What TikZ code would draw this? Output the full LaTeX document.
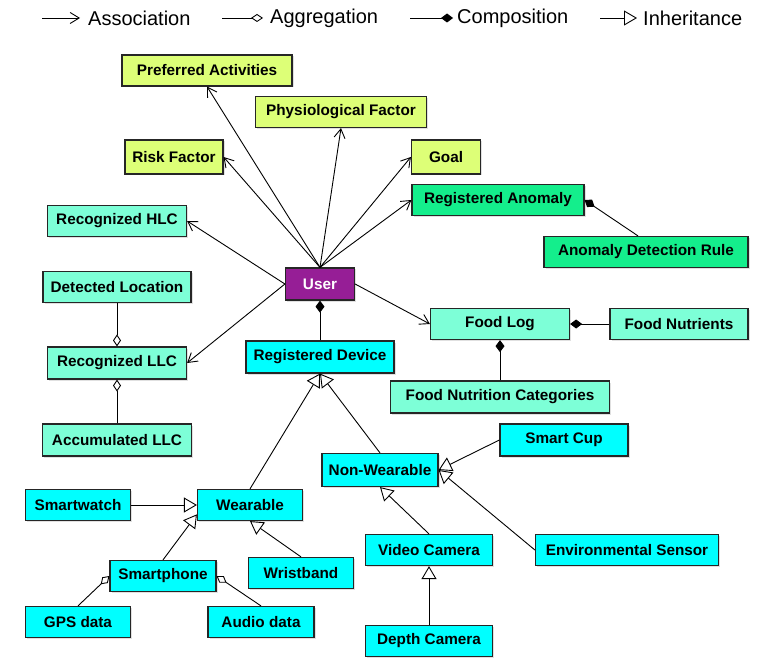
\documentclass[tikz,border=0pt]{standalone}
\usepackage{fontspec}
\setmainfont{Liberation Sans}
\usepackage{xcolor}
\usetikzlibrary{arrows.meta,shadows}

\definecolor{limebox}{RGB}{221,255,119}
\definecolor{anombox}{RGB}{20,238,140}
\definecolor{tealbox}{RGB}{125,255,215}
\definecolor{cyanbox}{RGB}{0,255,255}
\definecolor{userbox}{RGB}{150,30,150}

\tikzset{
  umlbox/.style={draw=black!85, line width=1.2pt, rectangle, minimum height=31pt, inner sep=2pt,
    font=\fontsize{15.3}{18}\selectfont\bfseries,
    drop shadow={shadow xshift=1.5pt, shadow yshift=-1.5pt, fill=black!30, opacity=0.4}},
  legend/.style={font=\fontsize{20}{23}\selectfont, inner sep=0pt},
  assoc/.style={-{Straight Barb[length=9pt,width=11pt]}, line width=0.9pt},
  aggr/.style={-{Diamond[open,length=12pt,width=8pt]}, line width=0.9pt},
  comp/.style={-{Diamond[length=12pt,width=9pt]}, line width=0.9pt},
  inherit/.style={-{Triangle[open,length=13pt,width=15pt]}, line width=0.9pt}
}

\begin{document}
\begin{tikzpicture}[x=1pt, y=-1pt]
  \useasboundingbox (0,0) rectangle (760,668);

  % Legend
  \coordinate (lga) at (42,18);
  \node[legend, anchor=west] (lgassoc) at (88,18) {Association};
  \coordinate (lgb) at (222,18);
  \node[legend, anchor=west] (lgaggr) at (270,18) {Aggregation};
  \coordinate (lgc) at (410,18);
  \node[legend, anchor=west] (lgcomp) at (457,18) {Composition};
  \coordinate (lgd) at (600,18);
  \node[legend, anchor=west] (lginh) at (643,18) {Inheritance};
  \draw[assoc] (lga) -- ([xshift=-8pt]lgassoc.west);
  \draw[aggr] (lgb) -- ([xshift=-7pt]lgaggr.west);
  \draw[comp] (lgc) -- ([xshift=-4pt]lgcomp.west);
  \draw[inherit] (lgd) -- ([xshift=-6pt]lginh.west);

  % User profile
  \node[umlbox, fill=limebox, minimum width=170pt] (pref) at (207,70.5) {Preferred Activities};
  \node[umlbox, fill=limebox, minimum width=171pt] (phys) at (341,112) {Physiological Factor};
  \node[umlbox, fill=limebox, minimum width=98pt, minimum height=34pt] (risk) at (174,157) {Risk Factor};
  \node[umlbox, fill=limebox, minimum width=69pt, minimum height=34pt] (goal) at (446,157) {Goal};
  \node[umlbox, fill=anombox, minimum width=172pt] (anom) at (498,200) {Registered Anomaly};
  \node[umlbox, fill=anombox, minimum width=204pt] (rule) at (646,252) {Anomaly Detection Rule};

  % User
  \node[umlbox, fill=userbox, text=white, minimum width=69pt, minimum height=32pt] (user) at (320,284) {User};

  % Context
  \node[umlbox, fill=tealbox, minimum width=139pt] (hlc) at (117,221) {Recognized HLC};
  \node[umlbox, fill=tealbox, minimum width=148pt] (loc) at (117,287) {Detected Location};
  \node[umlbox, fill=tealbox, minimum width=139pt, minimum height=32pt] (llc) at (117,363) {Recognized LLC};
  \node[umlbox, fill=tealbox, minimum width=149pt, minimum height=32pt] (accllc) at (117,440) {Accumulated LLC};

  % Food
  \node[umlbox, fill=tealbox, minimum width=139pt] (food) at (500,324) {Food Log};
  \node[umlbox, fill=tealbox, minimum width=138pt] (nutr) at (679,324) {Food Nutrients};
  \node[umlbox, fill=tealbox, minimum width=219pt, minimum height=32pt] (cat) at (500,397) {Food Nutrition Categories};

  % Devices
  \node[umlbox, fill=cyanbox, minimum width=148pt, minimum height=32pt] (dev) at (320,357) {Registered Device};
  \node[umlbox, fill=cyanbox, minimum width=116pt, minimum height=33pt] (nonw) at (380,470) {Non-Wearable};
  \node[umlbox, fill=cyanbox, minimum width=128pt, minimum height=32pt] (cup) at (564,440) {Smart Cup};
  \node[umlbox, fill=cyanbox, minimum width=105pt] (wear) at (250,505) {Wearable};
  \node[umlbox, fill=cyanbox, minimum width=105pt] (watch) at (78,505) {Smartwatch};
  \node[umlbox, fill=cyanbox, minimum width=183pt] (env) at (627,550) {Environmental Sensor};
  \node[umlbox, fill=cyanbox, minimum width=127pt] (vcam) at (429,550) {Video Camera};
  \node[umlbox, fill=cyanbox, minimum width=105pt] (wrist) at (301,573) {Wristband};
  \node[umlbox, fill=cyanbox, minimum width=106pt] (phone) at (163,576) {Smartphone};
  \node[umlbox, fill=cyanbox, minimum width=105pt] (gps) at (78,622) {GPS data};
  \node[umlbox, fill=cyanbox, minimum width=106pt] (audio) at (261,622) {Audio data};
  \node[umlbox, fill=cyanbox, minimum width=127pt] (dcam) at (429,641) {Depth Camera};

  % Associations
  \draw[assoc] (user.north) -- (pref.south);
  \draw[assoc] (user.north) -- (phys.south);
  \draw[assoc] (user.north) -- (risk.east);
  \draw[assoc] (user.north) -- (goal.west);
  \draw[assoc] (user.north) -- (anom.west);
  \draw[assoc] (user.west) -- (hlc.east);
  \draw[assoc] (user.west) -- (llc.east);
  \draw[assoc] (user.east) -- (food.west);

  % Aggregations
  \draw[aggr] (loc.south) -- (llc.north);
  \draw[aggr] (accllc.north) -- (llc.south);
  \draw[aggr] (gps.north) -- (phone.west);
  \draw[aggr] (audio.north) -- (phone.east);

  % Compositions
  \draw[comp] (dev.north) -- (user.south);
  \draw[comp] ([xshift=-8pt]rule.north) -- (anom.east);
  \draw[comp] (nutr.west) -- (food.east);
  \draw[comp] (cat.north) -- (food.south);

  % Inheritance
  \draw[inherit] (wear.north) -- (dev.south);
  \draw[inherit] (nonw.north) -- (dev.south);
  \draw[inherit] (watch.east) -- (wear.west);
  \draw[inherit] (phone.north) -- (wear.190);
  \draw[inherit] (wrist.north) -- (wear.south);
  \draw[inherit] (cup.west) -- (nonw.east);
  \draw[inherit] (env.west) -- (nonw.east);
  \draw[inherit] (vcam.north) -- (nonw.south);
  \draw[inherit] (dcam.north) -- (vcam.south);
\end{tikzpicture}
\end{document}
